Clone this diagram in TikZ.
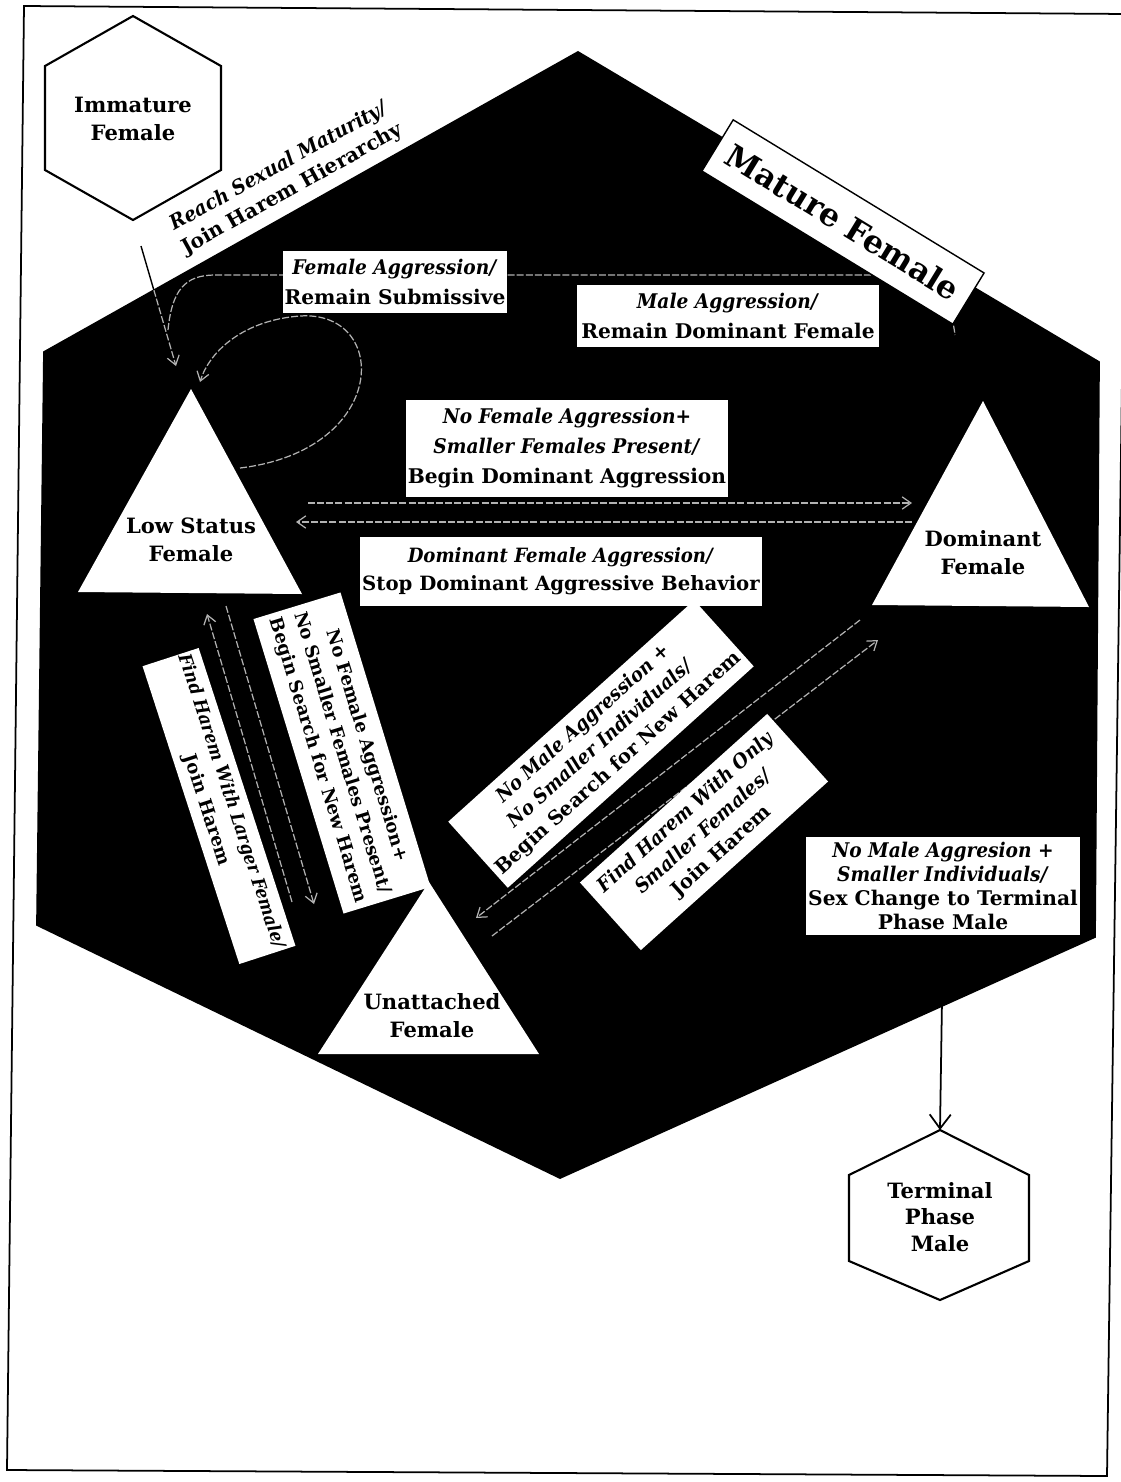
\documentclass[tikz,border=0pt]{standalone}
\usepackage{fontspec}
\setmainfont{DejaVu Serif}[BoldItalicFeatures={FakeStretch=0.92}]
\usetikzlibrary{arrows.meta}
\begin{document}
\begin{tikzpicture}[x=0.02cm, y=-0.02cm,
  every node/.style={font=\bfseries\fontsize{11.5}{16}\selectfont},
  lbl/.style={fill=white, inner sep=1pt, align=center},
  statetext/.style={align=center, inner sep=0pt, font=\bfseries\fontsize{12}{16}\selectfont},
  ghost/.style={draw=gray!60, line width=0.7pt, dash pattern=on 4pt off 1.2pt},
  ghostarrow/.style={ghost, -{Straight Barb[length=5pt,width=7pt]}},
  edge/.style={line width=0.8pt},
]
\useasboundingbox (0,0) rectangle (1120,1482);
\fill[white] (0,0) rectangle (1120,1482);

% page frame
\draw[line width=1pt] (24,6) -- (1127,14) -- (1107,1476) -- (7,1470) -- cycle;

% mature-female region
\coordinate (hT)  at (578,52);
\coordinate (hUR) at (1099,362);
\coordinate (hLR) at (1095,937);
\coordinate (hB)  at (560,1178);
\coordinate (hLL) at (37,925);
\coordinate (hUL) at (44,352);
\fill[black] (hT) -- (hUR) -- (hLR) -- (hB) -- (hLL) -- (hUL) -- cycle;
\draw[line width=1pt] (hT) -- (hUR) -- (hLR) -- (hB) -- (hLL) -- (hUL) -- cycle;

% end points of the inner transitions
\coordinate (immA) at (141,246);
\coordinate (immB) at (176,366);
\coordinate (loopA) at (240,468);
\coordinate (loopB) at (200,382);
\coordinate (topA) at (168,330);
\coordinate (topB) at (955,335);
\coordinate (ldA) at (308,503);
\coordinate (ldB) at (912,503);
\coordinate (dlA) at (912,522);
\coordinate (dlB) at (296,522);
\coordinate (luA) at (226,606);
\coordinate (luB) at (314,904);
\coordinate (ulA) at (292,902);
\coordinate (ulB) at (207,614);
\coordinate (duA) at (860,620);
\coordinate (duB) at (476,918);
\coordinate (udA) at (492,936);
\coordinate (udB) at (878,640);

% faint transitions inside the dark region
\draw[ghost] (topA) .. controls (172,290) and (185,275) .. (215,275) -- (905,275)
  .. controls (935,275) and (950,295) .. (topB);
\draw[ghostarrow] (loopA) .. controls (390,450) and (390,310) .. (300,316)
  .. controls (245,320) and (210,350) .. (loopB);
\draw[ghostarrow] (ldA) -- (ldB);
\draw[ghostarrow] (dlA) -- (dlB);
\draw[ghostarrow] (luA) -- (luB);
\draw[ghostarrow] (ulA) -- (ulB);
\draw[ghostarrow] (duA) -- (duB);
\draw[ghostarrow] (udA) -- (udB);

% entry from the immature state
\draw[edge] (immA) -- (immB);
\begin{scope}
  \clip (hT) -- (hUR) -- (hLR) -- (hB) -- (hLL) -- (hUL) -- cycle;
  \draw[ghostarrow] (immA) -- (immB);
\end{scope}

% triangular sub-states
\fill[white] (191,389) -- (78,592) -- (302,594) -- cycle;
\node[statetext] (lowst) at (191,540) {Low Status\\Female};
\fill[white] (983,401) -- (872,605) -- (1089,607) -- cycle;
\node[statetext] (domst) at (983,553) {Dominant\\Female};
\fill[white] (429,882) -- (318,1054) -- (539,1054) -- cycle;
\node[statetext] (unast) at (432,1016) {Unattached\\Female};

% hexagonal states outside
\draw[line width=1.2pt, fill=white] (133,16) -- (221,66) -- (221,170) -- (133,220) -- (45,170) -- (45,66) -- cycle;
\node[statetext] (immst) at (133,119) {Immature\\Female};
\coordinate (termtop) at (940,1130);
\draw[line width=1.2pt, fill=white] (termtop) -- (1029,1175) -- (1029,1261) -- (940,1300) -- (849,1261) -- (849,1175) -- cycle;
\node[statetext, font=\bfseries\fontsize{12}{15}\selectfont] (termst) at (940,1217) {Terminal\\Phase\\Male};

% region title
\node[lbl, draw=black, line width=0.8pt, rotate=-31.4, minimum width=5.88cm, minimum height=1.2cm,
  font=\bfseries\fontsize{18}{20}\selectfont] (mature) at (843,222) {Mature Female};

% transition labels
\node[align=center, rotate=29, inner sep=0pt, font=\bfseries\fontsize{11.5}{15}\selectfont] (reach) at (286,178)
  {\textit{Reach Sexual Maturity/}\\Join Harem Hierarchy};

\node[lbl, minimum width=4.48cm, minimum height=1.24cm, font=\bfseries\fontsize{11.5}{17}\selectfont] (b1) at (395,282)
  {\textit{Female Aggression/}\\Remain Submissive};
\node[lbl, minimum width=6.06cm, minimum height=1.24cm, font=\bfseries\fontsize{11.5}{17}\selectfont] (b2) at (728,316)
  {\textit{Male Aggression/}\\Remain Dominant Female};
\node[lbl, minimum width=6.26cm, minimum height=1.94cm, font=\bfseries\fontsize{11.5}{17}\selectfont] (b3) at (567,448)
  {\textit{No Female Aggression+}\\\textit{Smaller Females Present/}\\Begin Dominant Aggression};
\node[lbl, minimum width=7.86cm, minimum height=1.38cm, font=\bfseries\fontsize{11.2}{16}\selectfont] (b4) at (561,571)
  {\textit{Dominant Female Aggression/}\\Stop Dominant Aggressive Behavior};
\node[lbl, minimum width=5.5cm, minimum height=1.96cm, font=\bfseries\fontsize{11.5}{13.5}\selectfont] (b5) at (943,886)
  {\textit{No Male Aggresion +}\\\textit{Smaller Individuals/}\\Sex Change to Terminal\\Phase Male};
\node[lbl, rotate=-73, minimum width=6.16cm, minimum height=1.82cm, font=\bfseries\fontsize{10.3}{14.5}\selectfont] (b6) at (342,753)
  {No Female Aggression+\\No Smaller Females Present/\\Begin Search for New Harem};
\node[lbl, rotate=-72, minimum width=5.84cm, minimum height=1.18cm, font=\bfseries\fontsize{10.3}{15}\selectfont] (b7) at (219,806)
  {\textit{Find Harem With Larger Female/}\\Join Harem};
\node[lbl, rotate=42, minimum width=6.62cm, minimum height=1.78cm, font=\bfseries\fontsize{11.2}{15}\selectfont] (b8) at (601,744)
  {\textit{No Male Aggression +}\\\textit{No Smaller Individuals/}\\Begin Search for New Harem};
\node[lbl, rotate=42, minimum width=5.04cm, minimum height=1.82cm, font=\bfseries\fontsize{11.2}{15}\selectfont] (b9) at (704,832)
  {\textit{Find Harem With Only}\\\textit{Smaller Females/}\\Join Harem};

% exit to the terminal phase male
\draw[edge, line width=1pt, -{Straight Barb[length=8pt,width=12pt]}] (b5.south) -- (termtop);
\end{tikzpicture}
\end{document}
